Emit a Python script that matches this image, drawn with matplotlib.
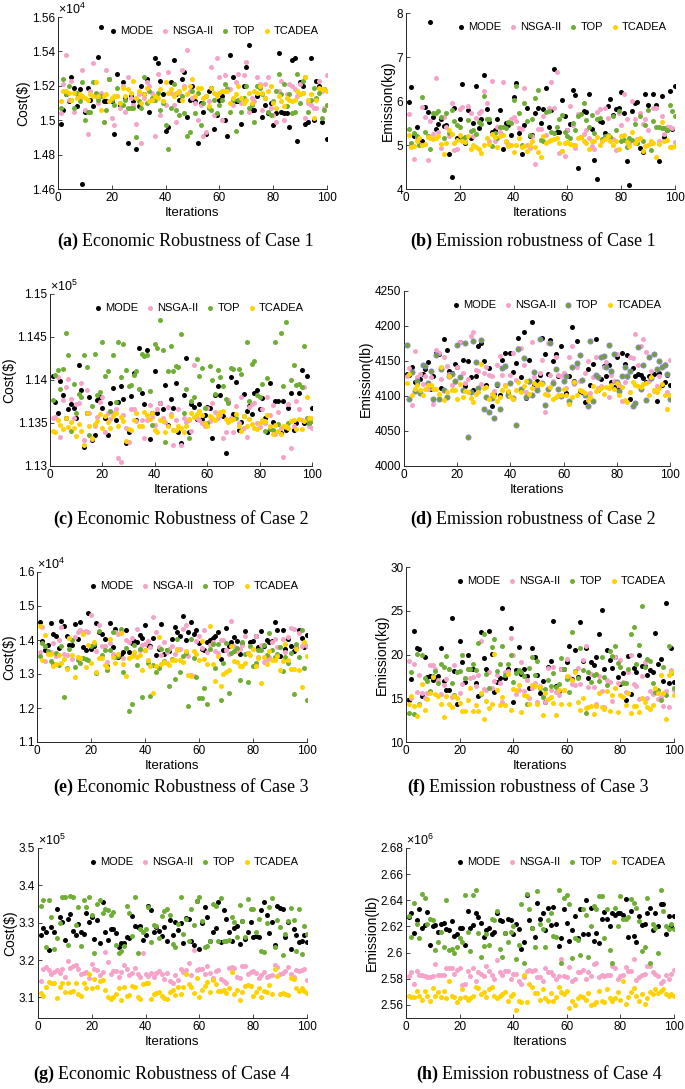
import numpy as np
import matplotlib
matplotlib.use("Agg")
import matplotlib.pyplot as plt
from matplotlib.ticker import FuncFormatter

# ---- data (values in the units shown on each axis) ----
series_names = ["MODE", "NSGA-II", "TOP", "TCADEA"]

# (a) Economic robustness, Case 1 (x1e4)
mode_a = [1.498,1.506,1.515,1.511,1.525,1.519,1.508,1.518,1.463,1.505,1.519,1.512,1.508,1.515,1.537,1.554,1.511,1.511,1.524,1.511,
          1.492,1.527,1.509,1.522,1.513,1.487,1.514,1.511,1.483,1.508,1.520,1.515,1.524,1.505,1.512,1.536,1.533,1.523,1.515,1.494,
          1.496,1.522,1.535,1.515,1.512,1.524,1.528,1.502,1.512,1.520,1.511,1.487,1.510,1.505,1.492,1.517,1.519,1.495,1.503,1.512,
          1.514,1.500,1.491,1.538,1.525,1.511,1.511,1.498,1.520,1.531,1.544,1.506,1.506,1.514,1.520,1.502,1.509,1.504,1.510,1.497,
          1.504,1.539,1.505,1.504,1.504,1.496,1.535,1.536,1.488,1.522,1.520,1.498,1.499,1.536,1.500,1.523,1.520,1.499,1.518,1.489]
nsga_a = [1.504,1.521,1.538,1.512,1.523,1.505,1.515,1.513,1.529,1.506,1.492,1.517,1.533,1.514,1.510,1.516,1.499,1.529,1.524,1.501,
          1.497,1.514,1.507,1.520,1.505,1.525,1.513,1.509,1.498,1.515,1.487,1.513,1.522,1.520,1.516,1.491,1.527,1.503,1.511,1.509,
          1.528,1.516,1.509,1.499,1.516,1.529,1.520,1.541,1.517,1.513,1.510,1.500,1.509,1.491,1.493,1.511,1.531,1.503,1.536,1.525,
          1.500,1.526,1.519,1.518,1.509,1.522,1.527,1.510,1.526,1.534,1.505,1.513,1.511,1.525,1.521,1.506,1.521,1.525,1.507,1.503,
          1.499,1.517,1.523,1.500,1.515,1.521,1.520,1.518,1.514,1.521,1.516,1.501,1.510,1.509,1.507,1.507,1.523,1.517,1.507,1.526]
top_a = [1.507,1.524,1.515,1.520,1.512,1.507,1.516,1.511,1.522,1.500,1.505,1.505,1.522,1.516,1.512,1.514,1.499,1.506,1.524,1.512,
         1.509,1.519,1.510,1.509,1.512,1.507,1.507,1.507,1.490,1.511,1.507,1.525,1.510,1.517,1.513,1.512,1.516,1.506,1.510,1.497,
         1.483,1.507,1.521,1.506,1.503,1.514,1.504,1.491,1.493,1.517,1.504,1.516,1.497,1.510,1.514,1.507,1.506,1.512,1.504,1.509,
         1.512,1.521,1.518,1.505,1.512,1.494,1.512,1.505,1.513,1.520,1.507,1.509,1.499,1.520,1.519,1.515,1.513,1.505,1.503,1.511,
         1.517,1.527,1.515,1.521,1.508,1.515,1.504,1.505,1.527,1.510,1.523,1.525,1.505,1.512,1.519,1.513,1.516,1.501,1.506,1.509]
tcadea_a = [1.511,1.517,1.517,1.516,1.512,1.516,1.513,1.515,1.514,1.513,1.512,1.515,1.514,1.522,1.514,1.506,1.514,1.515,1.511,1.513,
            1.514,1.514,1.510,1.519,1.514,1.518,1.516,1.523,1.513,1.517,1.510,1.515,1.519,1.511,1.512,1.514,1.513,1.518,1.511,1.522,
            1.516,1.518,1.514,1.516,1.517,1.512,1.519,1.515,1.520,1.524,1.514,1.519,1.519,1.513,1.514,1.508,1.519,1.516,1.514,1.516,
            1.517,1.517,1.517,1.510,1.513,1.515,1.520,1.513,1.510,1.512,1.516,1.510,1.517,1.516,1.520,1.516,1.513,1.517,1.520,1.510,
            1.507,1.514,1.511,1.508,1.513,1.512,1.511,1.512,1.517,1.515,1.516,1.525,1.512,1.515,1.501,1.512,1.519,1.518,1.518,1.517]

# (b) Emission robustness, Case 1 (kg)
mode_b = [5.97,6.32,5.20,5.40,5.10,5.10,5.87,5.75,7.80,5.63,5.36,5.47,5.60,5.43,5.45,4.80,4.28,5.83,5.15,5.60,
          6.38,5.05,5.80,5.15,5.50,6.35,5.38,5.60,6.58,5.82,5.52,5.30,5.35,5.58,5.80,4.90,5.50,5.45,5.22,6.08,
          6.40,5.27,4.80,5.45,5.85,5.20,5.23,5.72,5.85,5.50,5.82,6.30,5.42,5.80,6.72,5.29,5.30,6.02,5.65,5.35,
          5.48,6.25,6.13,4.47,5.18,5.77,5.74,6.17,5.37,4.67,4.23,5.54,5.52,5.27,5.88,6.04,5.68,5.82,5.85,6.20,
          5.73,4.63,4.08,5.78,5.95,5.98,4.93,4.83,6.15,5.92,5.05,6.15,5.92,4.63,6.12,5.18,5.35,6.23,5.37,6.33]
nsga_b = [5.70,5.03,4.68,5.15,5.02,5.87,5.63,4.66,5.55,5.26,6.53,5.30,4.94,5.63,5.42,5.20,5.95,4.88,4.90,5.82,
          5.86,5.10,5.88,5.73,5.20,5.62,5.73,5.78,6.23,5.95,5.08,6.45,5.08,5.40,5.30,6.44,5.07,5.03,5.58,5.63,
          5.54,5.39,5.36,6.30,5.00,4.94,5.20,4.57,5.36,5.36,5.65,5.22,5.85,6.43,5.85,6.65,4.82,4.87,4.74,5.35,
          5.88,5.46,4.93,5.70,5.18,5.25,5.35,5.17,4.97,4.90,5.76,5.82,5.10,5.83,5.62,5.17,5.14,4.89,5.73,5.45,
          6.15,5.58,5.05,6.01,5.60,5.14,5.73,5.48,5.58,5.35,5.05,5.84,5.83,5.08,5.66,5.25,5.42,5.42,5.38,5.07]
top_b = [5.37,5.05,5.28,5.20,4.99,6.08,5.30,5.20,4.92,5.73,5.73,5.77,5.63,5.15,5.72,5.27,5.80,5.55,5.45,5.42,
         5.15,5.18,5.57,5.32,5.33,5.25,5.53,5.47,6.12,5.58,5.60,4.97,5.27,5.15,5.42,5.40,5.38,5.52,5.50,6.03,
         6.33,5.73,4.99,5.95,5.55,5.22,5.60,6.06,6.25,5.12,5.10,5.75,5.78,5.30,5.28,5.42,5.59,5.68,5.30,5.20,
         5.15,5.50,5.35,5.67,5.70,5.95,5.57,5.42,5.68,5.27,5.60,5.62,5.13,5.20,5.22,5.18,5.65,5.35,5.77,5.10,
         5.12,4.95,5.15,5.12,5.48,5.05,5.65,5.08,5.45,5.80,4.88,5.55,5.40,5.42,5.38,5.38,5.35,5.90,5.78,5.65]
tcadea_b = [5.22,4.95,4.98,5.08,5.15,5.00,5.02,5.18,5.15,5.14,5.17,5.20,5.03,4.80,5.04,5.33,5.24,5.05,5.12,5.22,
            5.08,5.07,5.20,4.90,5.00,4.95,4.90,4.82,5.00,5.15,5.03,5.25,5.18,4.95,5.20,5.23,5.08,4.97,5.00,4.85,
            5.00,5.17,4.95,4.98,4.87,5.00,5.08,4.95,4.85,4.73,5.20,5.05,5.10,5.12,5.13,5.15,5.04,4.87,5.05,5.06,
            5.02,5.00,5.01,5.17,5.18,5.08,5.04,4.92,5.10,5.08,5.18,5.00,5.10,5.13,5.20,5.10,5.00,5.08,4.90,5.20,
            5.22,5.07,4.97,5.30,5.05,5.12,5.17,4.87,4.97,5.00,5.10,5.05,4.72,5.03,5.52,5.10,5.12,4.95,4.95,4.97]

# (c) Economic robustness, Case 2 (x1e5)
mode_c = [1.1405,1.1374,1.1362,1.1399,1.1382,1.1356,1.1366,1.1372,1.1368,1.1356,1.1418,1.1388,1.1322,1.1362,1.1380,1.1330,1.1336,1.1377,1.1380,1.1368,
          1.1356,1.1336,1.1373,1.1391,1.1354,1.1374,1.1393,1.1378,1.1327,1.1340,1.1381,1.1408,1.1353,1.1437,1.1385,1.1372,1.1435,1.1331,1.1362,1.1410,
          1.1362,1.1373,1.1366,1.1394,1.1348,1.1378,1.1367,1.1396,1.1339,1.1327,1.1382,1.1426,1.1340,1.1372,1.1369,1.1355,1.1372,1.1355,1.1359,1.1369,
          1.1368,1.1333,1.1382,1.1393,1.1383,1.1358,1.1315,1.1376,1.1403,1.1360,1.1398,1.1342,1.1351,1.1384,1.1364,1.1370,1.1360,1.1385,1.1388,1.1366,
          1.1379,1.1356,1.1339,1.1396,1.1351,1.1376,1.1375,1.1338,1.1376,1.1342,1.1368,1.1385,1.1342,1.1350,1.1385,1.1412,1.1350,1.1405,1.1350,1.1368]
nsga_c = [1.1356,1.1357,1.1403,1.1334,1.1377,1.1392,1.1401,1.1378,1.1356,1.1372,1.1373,1.1396,1.1330,1.1388,1.1362,1.1331,1.1346,1.1357,1.1374,1.1380,
          1.1340,1.1362,1.1355,1.1362,1.1366,1.1309,1.1305,1.1359,1.1344,1.1328,1.1366,1.1366,1.1352,1.1389,1.1354,1.1333,1.1354,1.1371,1.1357,1.1348,
          1.1366,1.1373,1.1356,1.1351,1.1369,1.1361,1.1324,1.1353,1.1366,1.1324,1.1356,1.1351,1.1354,1.1341,1.1418,1.1356,1.1354,1.1350,1.1346,1.1368,
          1.1352,1.1373,1.1363,1.1356,1.1359,1.1333,1.1340,1.1377,1.1356,1.1339,1.1370,1.1350,1.1380,1.1344,1.1334,1.1369,1.1372,1.1373,1.1350,1.1345,
          1.1366,1.1350,1.1380,1.1359,1.1371,1.1337,1.1363,1.1344,1.1310,1.1345,1.1372,1.1321,1.1346,1.1376,1.1366,1.1353,1.1392,1.1355,1.1346,1.1344]
top_c = [1.1377,1.1406,1.1412,1.1390,1.1413,1.1455,1.1429,1.1341,1.1395,1.1362,1.1384,1.1380,1.1429,1.1415,1.1336,1.1370,1.1430,1.1382,1.1386,1.1444,
         1.1405,1.1410,1.1364,1.1429,1.1374,1.1444,1.1403,1.1442,1.1412,1.1393,1.1394,1.1406,1.1411,1.1389,1.1430,1.1428,1.1429,1.1387,1.1348,1.1442,
         1.1437,1.1470,1.1435,1.1328,1.1410,1.1440,1.1411,1.1416,1.1415,1.1453,1.1362,1.1390,1.1333,1.1376,1.1380,1.1424,1.1405,1.1414,1.1368,1.1350,
         1.1416,1.1400,1.1384,1.1412,1.1404,1.1393,1.1378,1.1373,1.1414,1.1413,1.1356,1.1413,1.1407,1.1358,1.1444,1.1375,1.1419,1.1422,1.1382,1.1380,
         1.1395,1.1341,1.1402,1.1343,1.1342,1.1444,1.1349,1.1455,1.1393,1.1467,1.1350,1.1400,1.1418,1.1394,1.1395,1.1392,1.1439,1.1356,1.1350,1.1352]
tcadea_c = [1.1341,1.1340,1.1354,1.1348,1.1343,1.1356,1.1345,1.1351,1.1344,1.1335,1.1349,1.1341,1.1324,1.1362,1.1346,1.1333,1.1349,1.1352,1.1361,1.1344,
            1.1358,1.1351,1.1344,1.1358,1.1362,1.1346,1.1357,1.1352,1.1329,1.1343,1.1342,1.1354,1.1362,1.1346,1.1347,1.1363,1.1359,1.1355,1.1362,1.1342,
            1.1340,1.1353,1.1352,1.1339,1.1346,1.1358,1.1342,1.1342,1.1347,1.1344,1.1340,1.1347,1.1355,1.1362,1.1357,1.1360,1.1364,1.1359,1.1350,1.1347,
            1.1358,1.1356,1.1353,1.1359,1.1363,1.1364,1.1355,1.1351,1.1353,1.1355,1.1360,1.1346,1.1341,1.1358,1.1347,1.1355,1.1349,1.1344,1.1343,1.1350,
            1.1353,1.1352,1.1359,1.1346,1.1337,1.1348,1.1341,1.1337,1.1346,1.1347,1.1344,1.1352,1.1353,1.1343,1.1355,1.1343,1.1352,1.1380,1.1356,1.1356]

# (d) Emission robustness, Case 2 (lb)
mode_d = [4132,4130,4142,4120,4118,4124,4131,4139,4148,4110,4128,4162,4160,4111,4181,4166,4135,4133,4145,4141,
          4177,4152,4114,4150,4127,4108,4129,4171,4176,4150,4116,4140,4085,4103,4115,4102,4152,4161,4105,4161,
          4134,4147,4183,4127,4192,4097,4151,4205,4117,4121,4130,4183,4160,4132,4180,4150,4160,4128,4171,4132,
          4104,4128,4198,4121,4179,4107,4105,4092,4139,4115,4145,4181,4108,4124,4143,4128,4144,4120,4113,4155,
          4110,4161,4145,4158,4096,4140,4128,4131,4130,4126,4120,4128,4125,4131,4093,4133,4116,4120,4130,4116]
nsga_d = [4128,4140,4087,4164,4127,4131,4117,4129,4110,4127,4089,4165,4162,4124,4156,4143,4131,4115,4120,4141,
          4177,4133,4118,4124,4185,4192,4137,4136,4117,4133,4142,4130,4128,4107,4144,4157,4130,4116,4100,4130,
          4162,4123,4169,4168,4144,4105,4120,4177,4127,4113,4133,4152,4077,4175,4130,4122,4155,4130,4128,4133,
          4112,4155,4172,4117,4142,4122,4107,4133,4150,4104,4127,4155,4111,4114,4142,4149,4098,4130,4121,4160,
          4115,4093,4120,4127,4155,4154,4189,4144,4172,4182,4163,4122,4136,4107,4114,4128,4143,4145,4105,4152]
top_d = [4173,4096,4134,4107,4122,4104,4144,4143,4118,4136,4096,4159,4096,4138,4109,4098,4128,4131,4122,4173,
         4127,4109,4175,4042,4105,4179,4149,4112,4180,4082,4099,4077,4097,4069,4117,4082,4140,4143,4102,4118,
         4097,4058,4167,4110,4154,4098,4122,4102,4134,4109,4181,4118,4087,4110,4175,4118,4138,4110,4100,4122,
         4129,4093,4141,4120,4147,4158,4123,4101,4086,4179,4093,4130,4127,4155,4157,4141,4173,4135,4160,4120,
         4107,4128,4142,4128,4136,4085,4090,4170,4110,4144,4094,4155,4125,4160,4138,4150,4142,4144,4131,4096]
tcadea_d = [4119,4132,4102,4110,4116,4109,4101,4110,4115,4115,4110,4110,4103,4142,4094,4106,4128,4108,4108,4095,
            4117,4099,4107,4106,4097,4092,4103,4106,4145,4111,4113,4096,4103,4100,4093,4098,4108,4114,4107,4100,
            4096,4108,4120,4105,4114,4121,4103,4111,4118,4115,4119,4117,4103,4102,4113,4095,4099,4101,4102,4110,
            4102,4089,4099,4120,4101,4108,4107,4104,4094,4098,4114,4107,4109,4111,4103,4113,4111,4116,4110,4118,
            4102,4113,4094,4092,4105,4120,4115,4114,4113,4117,4118,4101,4127,4108,4106,4112,4117,4102,4082,4102]

# (e) Economic robustness, Case 3 (x1e4)
mode_e = [1.453,1.397,1.370,1.384,1.449,1.418,1.412,1.376,1.457,1.440,1.412,1.386,1.384,1.446,1.402,1.452,1.380,1.372,1.480,1.373,
          1.381,1.451,1.423,1.417,1.404,1.325,1.450,1.378,1.432,1.350,1.355,1.364,1.428,1.366,1.392,1.397,1.393,1.416,1.405,1.443,
          1.385,1.383,1.407,1.356,1.374,1.446,1.358,1.371,1.368,1.402,1.439,1.423,1.412,1.471,1.401,1.424,1.452,1.418,1.428,1.390,
          1.374,1.372,1.395,1.401,1.406,1.412,1.425,1.345,1.372,1.434,1.383,1.395,1.409,1.396,1.358,1.388,1.426,1.363,1.393,1.396,
          1.413,1.378,1.426,1.382,1.401,1.394,1.398,1.452,1.428,1.352,1.428,1.375,1.404,1.382,1.369,1.380,1.428,1.407,1.378,1.416]
nsga_e = [1.366,1.437,1.338,1.363,1.364,1.390,1.353,1.399,1.437,1.360,1.355,1.405,1.343,1.408,1.423,1.428,1.425,1.426,1.424,1.474,
          1.392,1.367,1.444,1.382,1.381,1.336,1.392,1.360,1.424,1.418,1.423,1.346,1.399,1.393,1.406,1.355,1.432,1.370,1.384,1.388,
          1.397,1.380,1.469,1.424,1.380,1.356,1.395,1.364,1.374,1.381,1.360,1.375,1.374,1.431,1.444,1.353,1.298,1.295,1.396,1.412,
          1.376,1.429,1.366,1.384,1.395,1.367,1.361,1.400,1.401,1.370,1.360,1.456,1.381,1.368,1.373,1.384,1.412,1.363,1.381,1.374,
          1.412,1.349,1.386,1.334,1.342,1.349,1.393,1.404,1.379,1.380,1.403,1.366,1.408,1.435,1.433,1.382,1.422,1.381,1.391,1.382]
top_e = [1.353,1.391,1.383,1.367,1.339,1.329,1.361,1.327,1.383,1.233,1.317,1.373,1.400,1.322,1.342,1.332,1.348,1.343,1.342,1.383,
         1.389,1.304,1.426,1.357,1.371,1.312,1.372,1.424,1.351,1.353,1.432,1.307,1.377,1.192,1.213,1.384,1.327,1.375,1.232,1.372,
         1.333,1.234,1.326,1.305,1.318,1.373,1.337,1.371,1.266,1.343,1.285,1.402,1.305,1.352,1.363,1.205,1.403,1.346,1.290,1.228,
         1.228,1.260,1.211,1.373,1.389,1.317,1.388,1.223,1.331,1.392,1.243,1.361,1.369,1.377,1.283,1.393,1.359,1.277,1.381,1.325,
         1.331,1.372,1.372,1.384,1.357,1.421,1.371,1.350,1.360,1.378,1.308,1.351,1.332,1.361,1.242,1.388,1.349,1.428,1.317,1.223]
tcadea_e = [1.441,1.340,1.415,1.360,1.360,1.323,1.328,1.357,1.331,1.345,1.314,1.406,1.356,1.290,1.351,1.347,1.417,1.320,1.385,1.333,
            1.394,1.307,1.346,1.346,1.327,1.322,1.403,1.349,1.331,1.360,1.421,1.330,1.295,1.348,1.353,1.365,1.350,1.357,1.311,1.370,
            1.340,1.324,1.245,1.323,1.410,1.328,1.334,1.333,1.327,1.340,1.341,1.370,1.341,1.336,1.368,1.297,1.295,1.367,1.360,1.341,
            1.397,1.343,1.328,1.441,1.328,1.280,1.352,1.264,1.301,1.307,1.312,1.381,1.338,1.334,1.325,1.323,1.333,1.362,1.355,1.373,
            1.325,1.346,1.275,1.351,1.328,1.367,1.340,1.342,1.353,1.312,1.339,1.389,1.342,1.314,1.316,1.373,1.311,1.263,1.393,1.354]

# (f) Emission robustness, Case 3 (kg)
mode_f = [14.8,17.2,22.7,20.7,20.6,15.3,19.7,17.4,17.5,17.1,17.3,17.6,20.7,17.0,15.9,15.9,24.2,18.1,14.3,21.6,
          19.2,16.9,19.9,18.4,18.4,16.8,15.3,22.6,19.6,18.3,22.7,20.1,15.7,16.9,17.3,25.3,17.3,18.4,23.0,14.6,
          18.2,20.9,17.8,18.3,17.5,16.2,20.7,19.7,17.7,15.6,17.0,14.6,18.6,19.3,23.8,16.4,15.8,18.3,18.4,19.2,
          21.0,17.2,20.5,17.4,23.7,19.3,20.8,17.3,19.1,18.8,19.7,22.3,25.1,18.4,20.5,19.4,18.5,19.7,17.4,16.6,
          17.9,14.8,19.8,15.5,18.5,18.0,19.9,18.7,18.7,17.7,18.2,18.0,22.5,18.9,19.5,17.0,25.9,16.8,20.7,16.9]
nsga_f = [19.3,15.0,18.9,15.7,17.7,15.6,15.0,15.6,18.8,18.8,18.4,17.1,15.5,16.5,17.2,18.4,15.1,18.8,18.0,15.6,
          16.6,17.3,18.3,17.3,17.4,16.4,17.7,21.5,16.1,16.0,18.0,16.2,17.0,17.7,16.7,14.6,18.0,18.1,21.9,19.9,
          15.5,15.9,19.2,15.8,17.1,15.0,16.2,16.8,14.6,16.4,15.1,14.6,18.5,16.0,18.6,15.7,15.4,18.3,15.9,19.5,
          17.4,16.6,16.5,18.5,16.6,19.4,21.0,16.3,17.8,16.3,14.3,17.5,15.8,14.0,17.1,16.9,14.7,19.7,16.8,19.4,
          16.9,15.7,18.0,20.0,16.6,16.4,14.9,17.5,19.1,15.0,15.8,15.5,15.6,14.9,15.1,14.1,15.8,14.0,18.2,16.0]
top_f = [13.3,18.0,13.2,20.1,14.4,19.9,17.3,17.0,15.8,17.6,18.1,16.8,18.9,18.6,19.8,18.4,16.8,15.4,18.0,18.1,
         20.0,17.3,18.4,18.3,18.9,18.2,21.3,15.5,22.3,17.8,16.2,20.9,21.8,18.1,18.9,21.0,17.7,18.9,20.0,16.9,
         17.9,18.2,18.0,17.5,14.3,18.5,19.7,17.7,19.3,16.2,15.2,16.1,17.1,16.4,17.9,16.3,16.6,19.6,18.3,17.2,
         15.7,22.6,18.1,17.3,20.8,18.2,13.3,18.0,16.9,17.7,17.8,17.0,19.7,17.4,16.5,20.4,19.8,21.0,19.0,18.6,
         16.7,16.8,18.4,22.4,23.2,18.9,21.1,25.6,18.6,19.5,19.3,16.7,15.7,15.9,14.8,18.6,15.4,21.0,17.9,16.2]
tcadea_f = [14.4,15.3,14.1,13.0,14.2,16.6,13.7,14.9,15.6,17.4,15.5,15.3,14.3,12.9,15.3,14.3,14.0,15.3,15.0,14.5,
            13.5,13.5,14.8,16.2,13.6,14.2,13.6,15.6,12.6,14.7,13.9,14.3,20.1,16.0,14.2,15.2,14.2,17.8,13.7,16.1,
            16.0,16.5,13.4,15.4,15.3,14.3,16.5,16.4,14.3,16.3,13.1,15.6,14.9,15.2,14.5,13.1,16.0,14.3,15.9,17.5,
            14.4,17.1,18.0,14.6,13.7,15.0,13.9,14.0,14.1,13.2,14.1,15.6,14.0,13.8,15.8,13.6,15.4,16.2,13.4,15.4,
            15.2,14.2,15.6,13.3,14.1,14.1,13.4,15.0,14.6,14.0,13.8,14.2,16.2,15.6,17.7,15.6,12.6,17.7,18.0,15.4]

# (g) Economic robustness, Case 4 (x1e5)
mode_g = [3.267,3.285,3.276,3.227,3.288,3.275,3.337,3.316,3.302,3.254,3.309,3.323,3.277,3.268,3.296,3.274,3.271,3.325,3.301,3.314,
          3.256,3.306,3.247,3.356,3.276,3.254,3.282,3.283,3.272,3.234,3.247,3.245,3.262,3.259,3.319,3.291,3.289,3.291,3.254,3.266,
          3.345,3.335,3.275,3.288,3.279,3.264,3.289,3.251,3.307,3.267,3.303,3.281,3.298,3.247,3.312,3.310,3.250,3.240,3.357,3.230,
          3.299,3.342,3.314,3.251,3.275,3.287,3.355,3.248,3.335,3.310,3.276,3.251,3.285,3.290,3.242,3.305,3.256,3.276,3.303,3.261,
          3.264,3.262,3.333,3.356,3.322,3.272,3.302,3.241,3.345,3.340,3.336,3.262,3.303,3.229,3.282,3.268,3.248,3.250,3.267,3.248]
nsga_g = [3.144,3.176,3.181,3.173,3.164,3.168,3.173,3.166,3.176,3.154,3.198,3.178,3.184,3.188,3.175,3.162,3.165,3.169,3.153,3.190,
          3.176,3.174,3.160,3.167,3.221,3.195,3.162,3.170,3.171,3.155,3.168,3.188,3.175,3.161,3.166,3.179,3.164,3.156,3.220,3.162,
          3.157,3.166,3.155,3.165,3.170,3.163,3.149,3.165,3.144,3.140,3.160,3.147,3.177,3.167,3.173,3.193,3.160,3.226,3.174,3.175,
          3.175,3.162,3.183,3.166,3.153,3.172,3.173,3.149,3.145,3.140,3.180,3.181,3.178,3.155,3.153,3.183,3.185,3.163,3.168,3.172,
          3.166,3.153,3.159,3.167,3.155,3.158,3.160,3.187,3.181,3.162,3.165,3.170,3.182,3.162,3.155,3.173,3.172,3.173,3.175,3.146]
top_g = [3.346,3.360,3.235,3.362,3.316,3.229,3.260,3.300,3.369,3.370,3.240,3.371,3.369,3.293,3.343,3.237,3.362,3.342,3.369,3.320,
         3.220,3.351,3.361,3.325,3.337,3.335,3.321,3.328,3.240,3.220,3.223,3.238,3.346,3.327,3.265,3.368,3.220,3.284,3.275,3.282,
         3.342,3.248,3.294,3.292,3.260,3.319,3.332,3.337,3.322,3.242,3.236,3.296,3.369,3.269,3.310,3.250,3.336,3.295,3.358,3.368,
         3.304,3.236,3.239,3.251,3.350,3.346,3.252,3.365,3.252,3.250,3.255,3.315,3.301,3.261,3.348,3.304,3.261,3.363,3.336,3.336,
         3.276,3.309,3.225,3.222,3.300,3.341,3.365,3.234,3.307,3.289,3.214,3.270,3.305,3.340,3.308,3.225,3.337,3.215,3.290,3.269]
tcadea_g = [3.113,3.104,3.128,3.141,3.139,3.139,3.099,3.129,3.140,3.114,3.140,3.114,3.118,3.138,3.109,3.103,3.139,3.126,3.162,3.124,
            3.149,3.128,3.143,3.148,3.120,3.101,3.097,3.102,3.110,3.125,3.094,3.128,3.104,3.106,3.130,3.129,3.100,3.097,3.135,3.138,
            3.140,3.097,3.108,3.111,3.114,3.103,3.098,3.095,3.115,3.119,3.107,3.127,3.110,3.127,3.163,3.135,3.128,3.111,3.151,3.102,
            3.119,3.131,3.142,3.114,3.146,3.135,3.116,3.118,3.120,3.113,3.125,3.167,3.108,3.120,3.094,3.114,3.130,3.133,3.131,3.103,
            3.115,3.124,3.102,3.116,3.115,3.133,3.108,3.175,3.157,3.108,3.112,3.110,3.107,3.152,3.150,3.125,3.116,3.124,3.118,3.113]

# (h) Emission robustness, Case 4 (x1e6 lb)
mode_h = [2.627,2.630,2.615,2.625,2.633,2.619,2.621,2.631,2.606,2.620,2.621,2.616,2.622,2.623,2.618,2.617,2.624,2.613,2.614,2.619,
          2.619,2.606,2.632,2.619,2.621,2.630,2.627,2.623,2.612,2.617,2.619,2.614,2.616,2.630,2.625,2.624,2.615,2.626,2.625,2.614,
          2.622,2.618,2.603,2.608,2.644,2.625,2.619,2.612,2.638,2.626,2.630,2.617,2.634,2.621,2.635,2.622,2.605,2.611,2.633,2.623,
          2.609,2.617,2.628,2.611,2.633,2.614,2.640,2.614,2.634,2.609,2.615,2.607,2.626,2.631,2.626,2.620,2.630,2.629,2.630,2.630,
          2.629,2.641,2.612,2.632,2.613,2.608,2.628,2.621,2.622,2.630,2.634,2.617,2.630,2.620,2.637,2.637,2.614,2.628,2.620,2.628]
nsga_h = [2.582,2.585,2.576,2.586,2.583,2.583,2.582,2.581,2.581,2.582,2.591,2.583,2.583,2.583,2.588,2.588,2.588,2.584,2.587,2.588,
          2.575,2.576,2.586,2.582,2.588,2.578,2.585,2.584,2.582,2.590,2.586,2.583,2.580,2.594,2.585,2.583,2.586,2.586,2.580,2.584,
          2.584,2.578,2.576,2.581,2.586,2.587,2.586,2.587,2.581,2.581,2.578,2.588,2.585,2.585,2.583,2.580,2.582,2.595,2.582,2.581,
          2.589,2.578,2.580,2.585,2.585,2.587,2.580,2.585,2.582,2.591,2.592,2.581,2.583,2.582,2.583,2.583,2.590,2.588,2.580,2.582,
          2.583,2.589,2.586,2.586,2.595,2.579,2.581,2.583,2.584,2.590,2.590,2.585,2.584,2.582,2.577,2.578,2.583,2.580,2.584,2.587]
top_h = [2.628,2.612,2.638,2.622,2.611,2.645,2.642,2.622,2.626,2.625,2.602,2.608,2.616,2.604,2.640,2.602,2.603,2.600,2.604,2.611,
         2.608,2.644,2.616,2.601,2.644,2.648,2.615,2.597,2.605,2.614,2.606,2.626,2.625,2.632,2.603,2.597,2.615,2.608,2.616,2.620,
         2.595,2.606,2.637,2.592,2.645,2.633,2.619,2.604,2.647,2.622,2.618,2.604,2.625,2.630,2.613,2.612,2.648,2.592,2.642,2.644,
         2.637,2.596,2.611,2.610,2.598,2.633,2.629,2.597,2.620,2.636,2.633,2.643,2.643,2.611,2.633,2.602,2.592,2.634,2.620,2.643,
         2.626,2.626,2.627,2.641,2.638,2.634,2.624,2.601,2.604,2.642,2.592,2.622,2.619,2.600,2.648,2.632,2.620,2.618,2.622,2.618]
tcadea_h = [2.567,2.566,2.566,2.571,2.567,2.564,2.571,2.567,2.563,2.573,2.567,2.570,2.566,2.571,2.565,2.578,2.567,2.566,2.562,2.565,
            2.572,2.566,2.564,2.565,2.567,2.574,2.573,2.568,2.570,2.566,2.572,2.574,2.567,2.565,2.567,2.568,2.570,2.563,2.567,2.568,
            2.556,2.563,2.562,2.583,2.562,2.576,2.574,2.569,2.569,2.564,2.572,2.565,2.563,2.569,2.563,2.566,2.574,2.570,2.568,2.571,
            2.558,2.563,2.560,2.565,2.567,2.566,2.564,2.569,2.560,2.561,2.562,2.571,2.563,2.562,2.572,2.565,2.563,2.565,2.570,2.564,
            2.578,2.561,2.566,2.570,2.573,2.567,2.563,2.568,2.561,2.565,2.570,2.568,2.572,2.569,2.571,2.572,2.568,2.567,2.568,2.567]

captions = ["Economic Robustness of Case 1", "Emission robustness of Case 1",
            "Economic Robustness of Case 2", "Emission robustness of Case 2",
            "Economic Robustness of Case 3", "Emission robustness of Case 3",
            "Economic Robustness of Case 4", "Emission robustness of Case 4"]
tags = ["(a)", "(b)", "(c)", "(d)", "(e)", "(f)", "(g)", "(h)"]
ylabels = ["Cost($)", "Emission(kg)", "Cost($)", "Emission(lb)",
           "Cost($)", "Emission(kg)", "Cost($)", "Emission(lb)"]
exponents = [4, None, 5, None, 4, None, 5, 6]
ytick_sets = [[1.46, 1.48, 1.50, 1.52, 1.54, 1.56], [4, 5, 6, 7, 8],
              [1.13, 1.135, 1.14, 1.145, 1.15], [4000, 4050, 4100, 4150, 4200, 4250],
              [1.1, 1.2, 1.3, 1.4, 1.5, 1.6], [10, 15, 20, 25, 30],
              [3.1, 3.2, 3.3, 3.4, 3.5], [2.56, 2.58, 2.60, 2.62, 2.64, 2.66, 2.68]]
panel_data = [(mode_a, nsga_a, top_a, tcadea_a), (mode_b, nsga_b, top_b, tcadea_b),
              (mode_c, nsga_c, top_c, tcadea_c), (mode_d, nsga_d, top_d, tcadea_d),
              (mode_e, nsga_e, top_e, tcadea_e), (mode_f, nsga_f, top_f, tcadea_f),
              (mode_g, nsga_g, top_g, tcadea_g), (mode_h, nsga_h, top_h, tcadea_h)]

# ---- layout (pixel boxes measured on the 685x1089 picture) ----
W, H = 685, 1089
# left, right, top, bottom in px
boxes = [(58, 327, 17, 189), (406, 675, 13, 189),
         (50, 312, 294, 466), (404, 670, 291, 466),
         (37, 307, 572, 742), (406, 674, 567, 742),
         (38, 307, 848, 1018), (406, 674, 848, 1018)]
ylims = [(1.46, 1.56), (4, 8), (1.13, 1.15), (4000, 4250),
         (1.1, 1.6), (10, 30), (3.045, 3.5), (2.55, 2.68)]
cap_pos = [(57, 241), (410, 241), (53, 519), (410, 519),
           (53, 787), (407, 787), (33, 1074), (416, 1074)]

colors = ["#000000", "#f7a3c9", "#6fae35", "#ffd200"]

plt.rcParams['font.family'] = ['Liberation Sans', 'DejaVu Sans']
plt.rcParams['mathtext.fontset'] = 'custom'
plt.rcParams['mathtext.rm'] = 'Liberation Sans'
plt.rcParams['mathtext.it'] = 'Liberation Sans:italic'

fig = plt.figure(figsize=(W / 100, H / 100), dpi=100)
fmt = FuncFormatter(lambda v, p: "%g" % round(v, 6))

for i in range(8):
    l, r, t, b = boxes[i]
    ax = fig.add_axes([l / W, 1 - b / H, (r - l) / W, (b - t) / H])
    for k in range(4):
        vals = panel_data[i][k]
        x = np.arange(1, len(vals) + 1)
        if i == 3 and k == 2:
            # TOP in case 2 emission has blue-edged markers
            ax.scatter(x, vals, s=14, facecolor="#74a030", edgecolor="#8585dc",
                       linewidths=0.6, label=series_names[k], zorder=3)
        else:
            ax.scatter(x, vals, s=13, color=colors[k], linewidths=0,
                       label=series_names[k], zorder=3)

    ax.set_xlim(0, 100)
    ax.set_ylim(*ylims[i])
    ax.set_xticks([0, 20, 40, 60, 80, 100])
    ax.set_yticks(ytick_sets[i])
    ax.yaxis.set_major_formatter(fmt)
    ax.tick_params(direction='in', length=3, width=0.6, labelsize=8.5, pad=2,
                   colors='#262626', labelcolor='black')
    for s in ['top', 'right']:
        ax.spines[s].set_visible(False)
    for s in ['left', 'bottom']:
        ax.spines[s].set_linewidth(0.7)
        ax.spines[s].set_color('#262626')
    ax.set_xlabel("Iterations", fontsize=9.5, labelpad=2)
    ax.set_ylabel(ylabels[i], fontsize=10, labelpad=1)

    if exponents[i] is not None:
        ax.text(0.0, 1.0, r"$\times10^{%d}$" % exponents[i], transform=ax.transAxes,
                ha='left', va='bottom', fontsize=9)

    ax.legend(loc='upper right', bbox_to_anchor=(1 - 8 / (r - l), 1 - 9 / (b - t)),
              ncol=4, frameon=False, fontsize=8, handlelength=0.5,
              handletextpad=0.4, columnspacing=0.8, borderpad=0, borderaxespad=0)

    cx, cy = cap_pos[i]
    tg = fig.text(cx / W, 1 - cy / H, tags[i], fontsize=13, fontweight='bold',
                  family='Liberation Serif', ha='left', va='center')
    ax.annotate(captions[i], xy=(1, 0), xycoords=tg, xytext=(3, 0),
                textcoords='offset points', ha='left', va='bottom',
                fontsize=13, family='Liberation Serif', annotation_clip=False)

fig.savefig("out.png", dpi=100)
